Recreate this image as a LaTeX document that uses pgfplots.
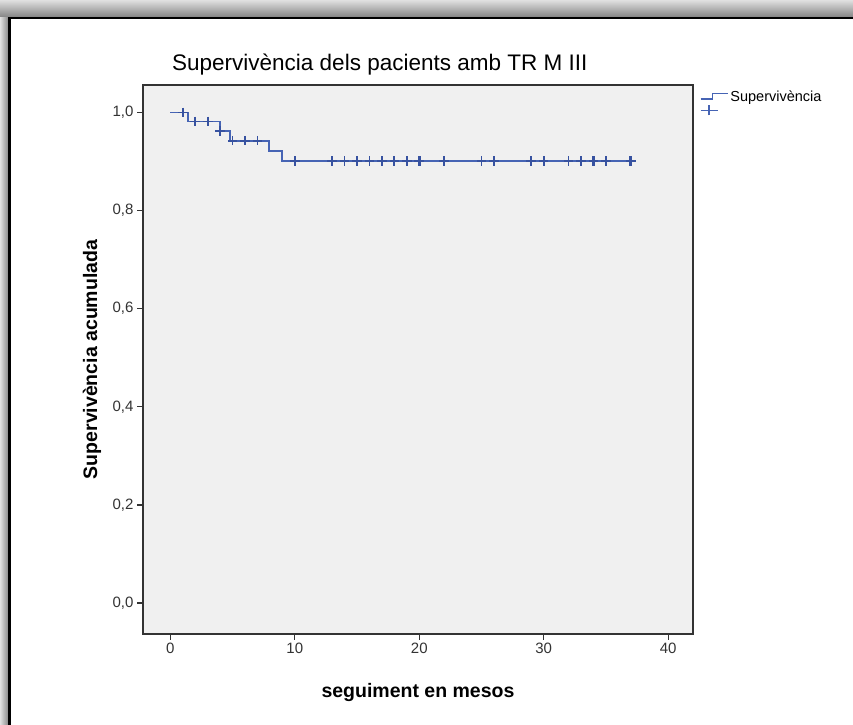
\documentclass[border=0pt]{standalone}
\usepackage{fontspec}
\setmainfont{Liberation Sans}
\usepackage{pgfplots}
\pgfplotsset{compat=1.18}
\definecolor{kmblue}{RGB}{70,100,180}
\definecolor{kmmark}{RGB}{55,82,160}
\definecolor{plotbg}{RGB}{240,240,240}
\begin{document}
\begin{tikzpicture}[x=1bp,y=1bp]
\path[use as bounding box] (0,0) rectangle (853,725);
% shadow and frame
\shade[top color=black!12, bottom color=black!50] (0,707) rectangle (853,725);
\shade[left color=black!12, right color=black!50] (0,0) rectangle (9,707);
\fill[white] (9,0) rectangle (853,707);
\draw[line width=2.5bp, black] (9.5,0) -- (9.5,707) -- (853,707);
% title
\node[anchor=base west, inner sep=0pt, font=\fontsize{22.5bp}{26bp}\selectfont] at (172,654) {Supervivència dels pacients amb TR M III};
\begin{axis}[
  at={(143bp,91bp)}, anchor=south west,
  scale only axis, width=550bp, height=549bp,
  xmin=-2.2, xmax=42, ymin=-0.063, ymax=1.056,
  axis background/.style={fill=plotbg},
  axis line style={black!80, line width=1.3bp},
  tick align=outside, xtick pos=bottom, ytick pos=left,
  major tick length=6bp,
  tick style={black!80, line width=1.2bp},
  xtick={0,10,20,30,40}, xticklabels={0,10,20,30,40},
  ytick={0,0.2,0.4,0.6,0.8,1.0},
  yticklabels={{0,0},{0,2},{0,4},{0,6},{0,8},{1,0}},
  ticklabel style={font=\fontsize{15bp}{17bp}\selectfont, text=black!80},
  xlabel={seguiment en mesos},
  ylabel={Supervivència acumulada},
  xlabel style={font=\bfseries\fontsize{19.5bp}{22bp}\selectfont, at={(axis description cs:0.5,0)}, anchor=base, yshift=-64bp},
  ylabel style={font=\bfseries\fontsize{19.5bp}{22bp}\selectfont, at={(axis description cs:0,0.5)}, anchor=base, yshift=46bp},
  legend style={draw=none, fill=none, at={(rel axis cs:1.012,0.994)}, anchor=north west,
    font=\fontsize{14.5bp}{16bp}\selectfont, row sep=0bp, inner sep=0pt},
  legend cell align=left,
  clip=false,
]
\addplot[const plot, kmblue, line width=1.9bp, mark=none,
  legend image code/.code={\draw[kmblue, line width=1.6bp] (0bp,-2.5bp) -- (12bp,-2.5bp) -- (12bp,3bp) -- (27bp,3bp);}]
  coordinates {(0,1) (1.4,0.9815) (4,0.9623) (4.8,0.9426) (7.9,0.9217) (9,0.9007) (37,0.9007)};
\addlegendentry{Supervivència}
\addplot[only marks, mark=+, mark size=4.8bp, kmmark, line width=1.8bp,
  legend image code/.code={\draw[kmblue, line width=1.6bp] (0bp,0bp) -- (17bp,0bp); \draw[kmblue, line width=1.6bp] (8.5bp,-5bp) -- (8.5bp,5bp);}]
  coordinates {(1,1) (2,0.9815) (3,0.9815) (4,0.9623) (5,0.9426) (6,0.9426) (7,0.9426)
    (10,0.9007) (13,0.9007) (14,0.9007) (15,0.9007) (16,0.9007) (17,0.9007) (18,0.9007)
    (19,0.9007) (20,0.9007) (22,0.9007) (25,0.9007) (26,0.9007) (29,0.9007) (30,0.9007)
    (32,0.9007) (33,0.9007) (34,0.9007) (35,0.9007) (37,0.9007)};
\addlegendentry{}
\addplot[only marks, mark=+, mark size=4.8bp, kmmark, line width=2.6bp, forget plot]
  coordinates {(15,0.9007) (20,0.9007) (34,0.9007) (37,0.9007)};
\end{axis}
\end{tikzpicture}
\end{document}
